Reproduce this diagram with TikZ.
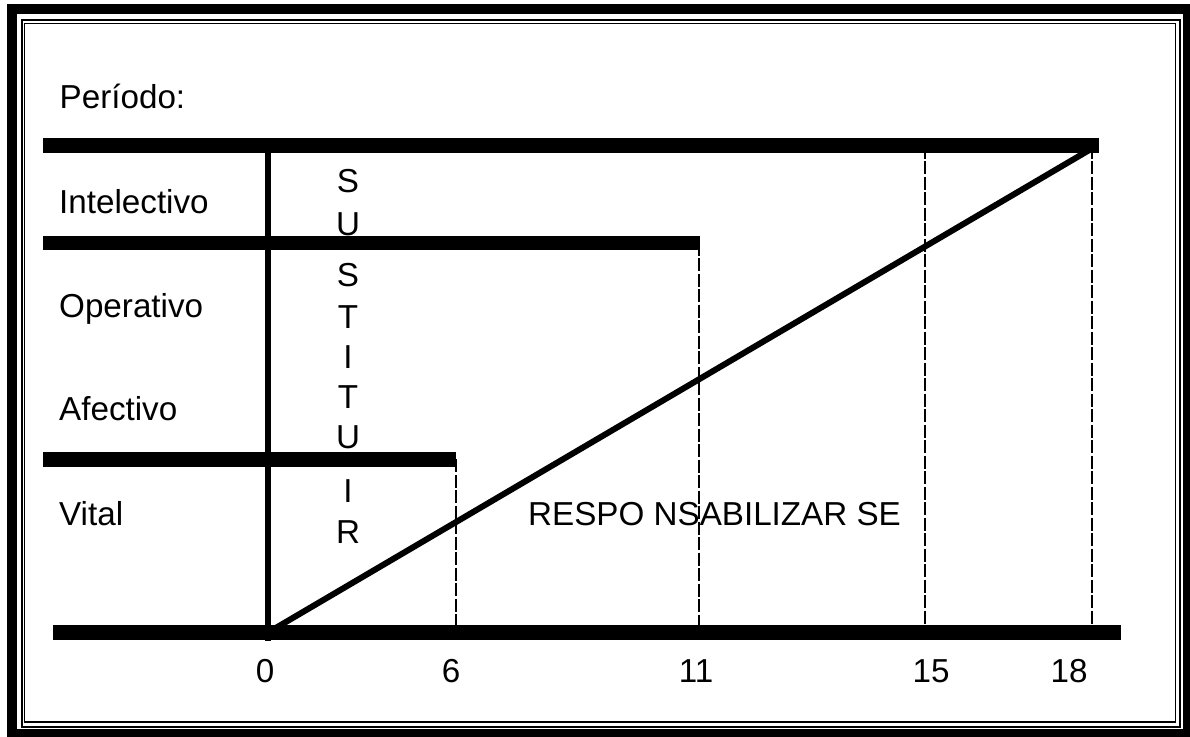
\documentclass[tikz,border=0pt]{standalone}
\usepackage{fontspec}
\setmainfont{Liberation Sans}
\begin{document}
\begin{tikzpicture}[x=1pt,y=-1pt,
  lbl/.style={anchor=base west,inner sep=0pt,font=\fontsize{33.2}{40}\selectfont},
  num/.style={anchor=base,inner sep=0pt,font=\fontsize{33.2}{40}\selectfont},
  letter/.style={anchor=base,inner sep=0pt,font=\fontsize{33.2}{40}\selectfont},
  bar/.style={line width=15pt,line cap=butt},
  guide/.style={line width=2pt,dash pattern=on 13pt off 2.5pt},
  diag/.style={line width=6pt},
  axisv/.style={line width=6pt},
]
\useasboundingbox (0,0) rectangle (1190,736);
% frame
\draw[line width=10pt] (12,9) rectangle (1188,734);
\draw[line width=2pt] (21.5,20) rectangle (1180,726.5);
\draw[line width=1.5pt] (24.5,23.5) rectangle (1175.5,722);

% coordinates
\coordinate (t0) at (43,145.5);  \coordinate (t1) at (1099,145.5);
\coordinate (i0) at (43,242.5);  \coordinate (i1) at (700,242.5);
\coordinate (a0) at (43,459);    \coordinate (a1) at (456,459);
\coordinate (b0) at (53,632.5);  \coordinate (b1) at (1121,632.5);
\coordinate (v0) at (268,145);   \coordinate (v1) at (268,641);
\coordinate (d1) at (1097,145.5);
\coordinate (g6) at (455.5,632.5);   \coordinate (g11) at (699,632.5);
\coordinate (g15) at (925,632.5);  \coordinate (g18) at (1092,632.5);
\coordinate (h6) at (455.5,459);     \coordinate (h11) at (699,242.5);
\coordinate (h15) at (925,145.5);  \coordinate (h18) at (1092,145.5);
\coordinate (o) at (268,632.5);

% dashed guides
\draw[guide] (h6) -- (g6);
\draw[guide] (h11) -- (g11);
\draw[guide] (h15) -- (g15);
\draw[guide] (h18) -- (g18);

% diagonal
\draw[diag] (o) -- (d1);

% bars
\draw[bar] (t0) -- (t1);
\draw[bar,line width=14pt] (i0) -- (i1);
\draw[bar] (a0) -- (a1);
\draw[bar] (b0) -- (b1);
\draw[axisv] (v0) -- (v1);

% labels
\node[lbl] (periodo) at (59.5,108) {Período:};
\node[lbl] (intel) at (59,213) {Intelectivo};
\node[lbl] (oper) at (59,317) {Operativo};
\node[lbl] (afec) at (59,420) {Afectivo};
\node[lbl] (vital) at (59,525) {Vital};

% SUSTITUIR
\node[letter] (s1) at (348,192) {S};
\node[letter] (s2) at (348,235) {U};
\node[letter] (s3) at (348,286) {S};
\node[letter] (s4) at (348,328) {T};
\node[letter] (s5) at (348,368) {I};
\node[letter] (s6) at (348,408) {T};
\node[letter] (s7) at (348,448) {U};
\node[letter] (s8) at (348,502) {I};
\node[letter] (s9) at (348,543) {R};

\node[lbl] (resp) at (528,525) {RESPO NSABILIZAR SE};

% numbers
\node[num] (n0) at (265,682) {0};
\node[num] (n6) at (451,682) {6};
\node[num] (n11) at (696,682) {11};
\node[num] (n15) at (931,682) {15};
\node[num] (n18) at (1069,682) {18};
\end{tikzpicture}
\end{document}
